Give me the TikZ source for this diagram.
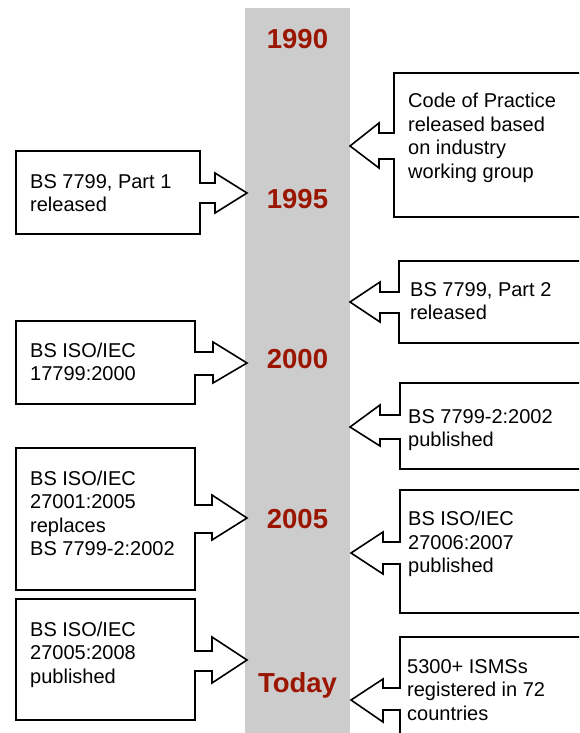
\documentclass[tikz,border=0pt]{standalone}
\usepackage{fontspec}
\setmainfont{Liberation Sans}
\definecolor{bargray}{RGB}{204,204,204}
\definecolor{yearred}{RGB}{155,22,0}
\begin{document}
\begin{tikzpicture}[x=1pt,y=-1pt,
  callout/.style={draw=black,line width=1.6pt,fill=white,line join=miter},
  lbl/.style={anchor=base west,inner sep=0pt,align=left,font=\fontsize{20}{23.5}\selectfont},
  year/.style={anchor=base,inner sep=0pt,text=yearred,font=\fontsize{27.5}{30}\selectfont\bfseries}]
\useasboundingbox (0,0) rectangle (579,733);
\clip (0,0) rectangle (579,733);
\fill[white] (0,0) rectangle (579,733);
% timeline bar
\fill[bargray] (245,8) rectangle (350,740);
% year labels
\node[year] (y1990) at (297.5,49) {1990};
\node[year] (y1995) at (297.5,208) {1995};
\node[year] (y2000) at (297.5,368) {2000};
\node[year] (y2005) at (297.5,528) {2005};
\node[year] (ytoday) at (297.5,692) {Today};
% left callouts
\draw[callout] (16,151) -- (200,151) -- (200,183) -- (215,183) -- (215,173) -- (247,193)
  -- (215,213) -- (215,203) -- (200,203) -- (200,234) -- (16,234) -- cycle;
\draw[callout] (16,321) -- (195,321) -- (195,352) -- (213,352) -- (213,342) -- (247,363)
  -- (213,383) -- (213,375) -- (195,375) -- (195,404) -- (16,404) -- cycle;
\draw[callout] (16,448) -- (195,448) -- (195,505) -- (212,505) -- (212,495) -- (247,518)
  -- (212,540) -- (212,533) -- (195,533) -- (195,590) -- (16,590) -- cycle;
\draw[callout] (16,599) -- (195,599) -- (195,651) -- (212,651) -- (212,637) -- (247,660)
  -- (212,683) -- (212,671) -- (195,671) -- (195,720) -- (16,720) -- cycle;
% right callouts
\draw[callout] (590,73) -- (394,73) -- (394,133) -- (379,133) -- (379,123) -- (350,146)
  -- (379,168) -- (379,159) -- (394,159) -- (394,217) -- (590,217);
\draw[callout] (590,261) -- (399,261) -- (399,292) -- (380,292) -- (380,282) -- (350,302)
  -- (380,322) -- (380,313) -- (399,313) -- (399,343) -- (590,343);
\draw[callout] (590,383) -- (400,383) -- (400,415) -- (380,415) -- (380,405) -- (350,427)
  -- (380,446) -- (380,439) -- (400,439) -- (400,469) -- (590,469);
\draw[callout] (590,490) -- (400,490) -- (400,542) -- (383,542) -- (383,532) -- (351,553)
  -- (383,574) -- (383,564) -- (400,564) -- (400,613) -- (590,613);
\draw[callout] (590,637) -- (400,637) -- (400,688) -- (383,688) -- (383,679) -- (351,700)
  -- (383,722) -- (383,710) -- (400,710) -- (400,745);
% texts (anchor = baseline of the last line)
\node[lbl] (l1) at (30,211.5) {BS 7799, Part 1\\released};
\node[lbl] (l2) at (30,380.5) {BS ISO/IEC\\17799:2000};
\node[lbl] (l3) at (30,555.5) {BS ISO/IEC\\27001:2005\\replaces\\BS 7799-2:2002};
\node[lbl] (l4) at (30,683) {BS ISO/IEC\\27005:2008\\published};
\node[lbl] (r1) at (408,178) {Code of Practice\\released based\\on industry\\working group};
\node[lbl] (r2) at (410,319.5) {BS 7799, Part 2\\released};
\node[lbl] (r3) at (408,446.5) {BS 7799-2:2002\\published};
\node[lbl] (r4) at (408,572.5) {BS ISO/IEC\\27006:2007\\published};
\node[lbl] (r5) at (407,720) {5300+ ISMSs\\registered in 72\\countries};
\end{tikzpicture}
\end{document}
